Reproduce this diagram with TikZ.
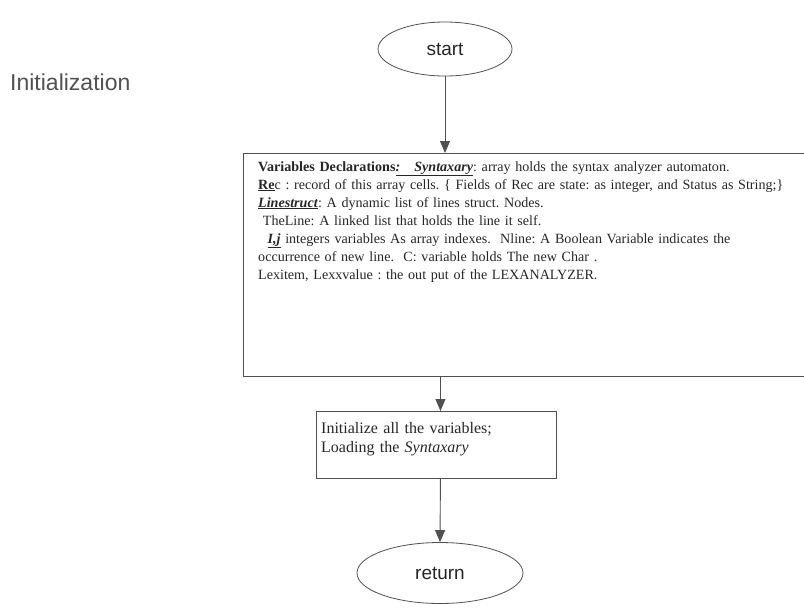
\documentclass[tikz,border=0pt]{standalone}
\usepackage{fontspec}
\setmainfont{Liberation Serif}
\newfontfamily\arialfont{Liberation Sans}
\usetikzlibrary{shapes.geometric,arrows.meta}
\definecolor{ink}{HTML}{262626}
\definecolor{edge}{HTML}{505050}
\frenchspacing
\tikzset{
  terminal/.style={draw=edge, line width=0.8pt, ellipse, inner sep=0pt,
    text=ink, font=\arialfont\fontsize{19}{21}\selectfont},
  procbox/.style={draw=edge, line width=0.9pt, rectangle, inner sep=0pt},
  boxtext/.style={text=ink, inner sep=0pt, align=left},
  flow/.style={draw=edge, line width=0.9pt, -{Triangle[length=12pt,width=10pt]}},
}
\begin{document}
\begin{tikzpicture}[x=1pt,y=-1pt]
\useasboundingbox (0,0) rectangle (804,611);

% terminals
\node[terminal, minimum width=134pt, minimum height=54pt] (start) at (445,49) {start};
\node[terminal, minimum width=166pt, minimum height=61pt] (ret) at (440,573) {return};

% section heading
\node[anchor=base west, inner sep=0pt, text=ink!80,
  font=\arialfont\fontsize{23}{26}\selectfont] (heading) at (10,90) {Initialization};

% declarations box (runs off the right edge)
\node[procbox, anchor=north west, minimum width=580pt, minimum height=223pt] (decl) at (243,153) {};
\node[boxtext, anchor=base west, text width=545pt,
  font=\fontsize{14.1}{18}\selectfont] (decltext) at (258,171) {%
\textbf{Variables Declarations}\underline{\textbf{\textit{:\ \ \ Syntaxary}}}: array holds the syntax analyzer automaton.\\
\underline{\textbf{Re}}c : record of this array cells. \{ Fields of Rec are state: as integer, and Status as String;\}\\
\underline{\textbf{\textit{Linestruct}}}: A dynamic list of lines struct. Nodes.\\
\ TheLine: A linked list that holds the line it self.\\
\ \ \underline{\textbf{\textit{I,j}}} integers variables As array indexes.\ \ Nline: A Boolean Variable indicates the\\
occurrence of new line.\ \ C: variable holds The new Char .\\
Lexitem, Lexxvalue : the out put of the LEXANALYZER.};

% initialisation box
\node[procbox, anchor=north west, minimum width=240pt, minimum height=67pt] (init) at (316,411) {};
\node[boxtext, anchor=base west, text width=230pt,
  font=\fontsize{16}{19}\selectfont] (inittext) at (321,433) {%
Initialize all the variables;\\
Loading the \textit{Syntaxary}};

% connectors
\draw[flow] (start.south) -- (start.south |- decl.north);
\draw[flow] ([xshift=4pt]init.north |- decl.south) -- ([xshift=4pt]init.north);
\draw[flow] ([xshift=4pt]init.south) -- (ret.north);
\end{tikzpicture}
\end{document}
